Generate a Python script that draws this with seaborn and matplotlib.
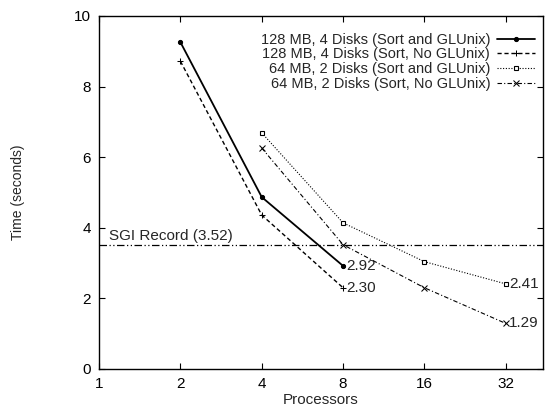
import matplotlib
matplotlib.use("Agg")
import matplotlib.pyplot as plt
import seaborn as sns
import pandas as pd

sns.set_theme(style="ticks")
plt.rcParams['font.family'] = ['Liberation Sans', 'DejaVu Sans']

labels = ["128 MB, 4 Disks (Sort and GLUnix)",
          "128 MB, 4 Disks (Sort, No GLUnix)",
          "64 MB, 2 Disks (Sort and GLUnix)",
          "64 MB, 2 Disks (Sort, No GLUnix)"]
procs_128 = [2, 4, 8]
procs_64 = [4, 8, 16, 32]
t_128_glunix = [9.26, 4.87, 2.92]
t_128_noglunix = [8.72, 4.36, 2.30]
t_64_glunix = [6.69, 4.14, 3.04, 2.41]
t_64_noglunix = [6.26, 3.52, 2.30, 1.29]
sgi_record = 3.52
xticks = [1, 2, 4, 8, 16, 32]
yticks = [0, 2, 4, 6, 8, 10]

series = [(procs_128, t_128_glunix), (procs_128, t_128_noglunix),
          (procs_64, t_64_glunix), (procs_64, t_64_noglunix)]
styles = [dict(linestyle='-', marker='o', markersize=3, linewidth=1.3),
          dict(linestyle=(0, (3, 2)), marker='+', markersize=4, linewidth=1.0),
          dict(linestyle=(0, (1, 1.5)), marker='s', markersize=3.5, linewidth=0.8,
               markerfacecolor='white', markeredgewidth=0.8),
          dict(linestyle=(0, (4, 2, 1, 2)), marker='x', markersize=4, linewidth=0.8)]

fig = plt.figure(figsize=(5.45, 4.07), dpi=100)
ax = fig.add_axes([0.1817, 0.0934, 0.815, 0.8673])

for (xs, ys), lab, st in zip(series, labels, styles):
    df = pd.DataFrame({"Processors": xs, "Time": ys})
    sns.lineplot(data=df, x="Processors", y="Time", ax=ax, color='black',
                 label=lab, markeredgecolor='black', **st)

ax.axhline(sgi_record, color='black', linewidth=0.9, linestyle=(0, (6, 2, 1, 2, 1, 2)))
ax.text(1.09, sgi_record + 0.06, "SGI Record (3.52)", fontsize=11, ha='left', va='bottom')

# end labels
ax.text(8 * 1.03, t_128_glunix[-1], f"{t_128_glunix[-1]:.2f}", fontsize=11, va='center')
ax.text(8 * 1.03, t_128_noglunix[-1], f"{t_128_noglunix[-1]:.2f}", fontsize=11, va='center')
ax.text(32 * 1.03, t_64_glunix[-1], f"{t_64_glunix[-1]:.2f}", fontsize=11, va='center')
ax.text(32 * 1.03, t_64_noglunix[-1], f"{t_64_noglunix[-1]:.2f}", fontsize=11, va='center')

ax.set_xscale('log', base=2)
ax.set_xlim(1, 44)
ax.set_ylim(0, 10)
ax.set_xticks(xticks)
ax.set_xticklabels([str(v) for v in xticks])
ax.minorticks_off()
ax.set_yticks(yticks)
ax.set_yticklabels([str(v) for v in yticks])
ax.tick_params(direction='in', top=True, right=True, labelsize=11, length=4,
               width=0.8, colors='black', pad=6)
for s in ax.spines.values():
    s.set_color('black')
    s.set_linewidth(1.0)
ax.set_xlabel("Processors", fontsize=11, labelpad=1)
ax.set_ylabel("Time (seconds)", fontsize=10, labelpad=35)

leg = ax.legend(loc='upper right', bbox_to_anchor=(1.012, 0.99), frameon=False,
                markerfirst=False, fontsize=10.5, handlelength=2.6,
                handletextpad=0.5, labelspacing=0.05, alignment='right')
for t in leg.get_texts():
    t.set_ha('right')
vp = leg._legend_box
for child in vp.get_children():
    for c in child.get_children():
        try:
            c.align = 'right'
        except Exception:
            pass

fig.savefig("out.png", dpi=100)
